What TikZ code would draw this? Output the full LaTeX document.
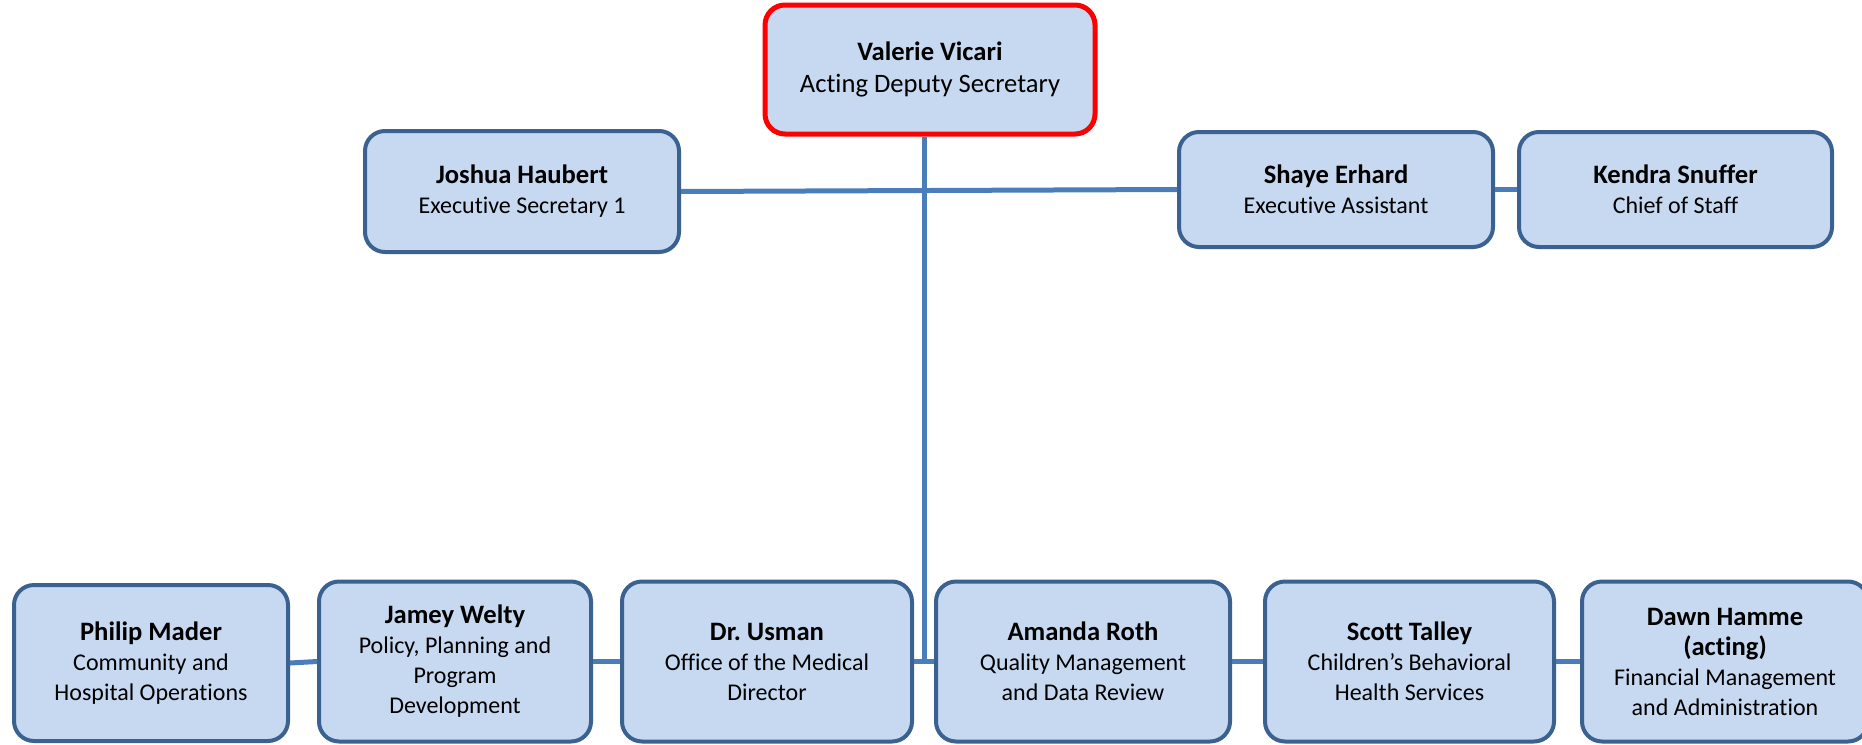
\documentclass[tikz,border=0pt]{standalone}
\usepackage{fontspec}
\setmainfont{Carlito}[Ligatures=NoCommon]
\definecolor{boxfill}{HTML}{C6D9F0}
\definecolor{boxline}{HTML}{3B6191}
\definecolor{linkblue}{HTML}{4A7EBB}
\newcommand\nm[1]{{\fontsize{13.3}{15}\selectfont\textbf{#1}}}

\begin{document}
\begin{tikzpicture}[x=0.5pt,y=-0.5pt,
    orgbox/.style={draw=boxline,fill=boxfill,line width=2pt,rounded corners=10pt,
                   align=center,inner sep=0pt,font=\fontsize{12}{15}\selectfont},
    headbox/.style={orgbox,draw=red,line width=2.5pt,font=\fontsize{13.3}{16}\selectfont},
    unitbox/.style={orgbox,minimum height=80pt,font=\fontsize{12}{15}\selectfont},
    link/.style={linkblue,line width=2.5pt}]
  \useasboundingbox (0,0) rectangle (1862,744);

% top of the chart
  \node[headbox,minimum width=165pt,minimum height=64.5pt] (valerie) at (930,69.5)
        {\nm{Valerie Vicari}\\Acting Deputy Secretary};
  \node[orgbox,minimum width=157pt,minimum height=60.5pt] (joshua) at (522,191.5)
        {\nm{Joshua Haubert}\\Executive Secretary 1};
  \node[orgbox,minimum width=157pt,minimum height=57.5pt] (shaye) at (1336,189.5)
        {\nm{Shaye Erhard}\\Executive Assistant};
  \node[orgbox,minimum width=156.5pt,minimum height=57.5pt] (kendra) at (1675.5,189.5)
        {\nm{Kendra Snuffer}\\Chief of Staff};

% bottom row
  \node[unitbox,minimum width=137pt,minimum height=78pt] (philip) at (151,663)
        {\nm{Philip Mader}\\Community and\\Hospital Operations};
  \node[unitbox,minimum width=136pt] (jamey) at (455,661.5)
        {\nm{Jamey Welty}\\Policy, Planning and\\Program\\Development};
  \node[unitbox,minimum width=145pt] (usman) at (767,661.5)
        {\nm{Dr.\ Usman}\\Office of the Medical\\Director};
  \node[unitbox,minimum width=147pt] (amanda) at (1083,661.5)
        {\nm{Amanda Roth}\\Quality Management\\and Data Review};
  \node[unitbox,minimum width=144.5pt] (scott) at (1409.5,661.5)
        {\nm{Scott Talley}\\Children’s Behavioral\\Health Services};
  \node[unitbox,minimum width=143pt] (dawn) at (1725,661.5)
        {\nm{Dawn Hamme}\\\nm{(acting)}\\Financial Management\\and Administration};

% connectors
  \coordinate (hub) at (924,662);
  \draw[link] (joshua.east) -- (shaye.west);
  \draw[link] (shaye.east) -- (kendra.west);
  \draw[link] (valerie.south -| hub) -- (hub);
  \draw[link] (usman.east) -- (amanda.west);
  \draw[link] (philip.east) -- (jamey.west);
  \draw[link] (jamey.east) -- (usman.west);
  \draw[link] (amanda.east) -- (scott.west);
  \draw[link] (scott.east) -- (dawn.west);
\end{tikzpicture}
\end{document}
